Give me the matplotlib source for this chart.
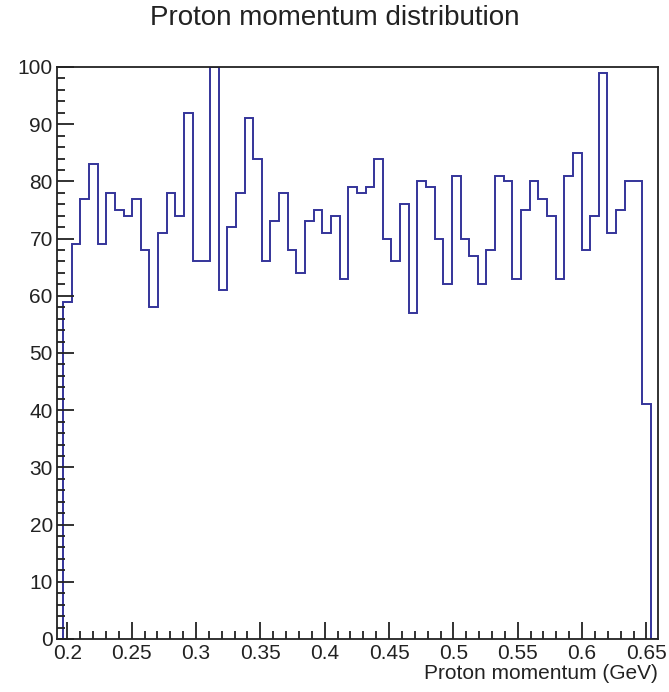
import numpy as np
import matplotlib
matplotlib.use("Agg")
import matplotlib.pyplot as plt
from matplotlib.ticker import MultipleLocator

plt.rcParams['font.family'] = ['Liberation Sans', 'DejaVu Sans']

# histogram: 70 bins between 0.19 and 0.66 GeV
hist_min = 0.19
hist_max = 0.66
counts = [0,
          59, 69, 77, 83, 69, 78, 75, 74, 77, 68,
          58, 71, 78, 74, 92, 66, 66, 100, 61, 72,
          78, 91, 84, 66, 73, 78, 68, 64, 73, 75,
          71, 74, 63, 79, 78, 79, 84, 70, 66, 76,
          57, 80, 79, 70, 62, 81, 70, 67, 62, 68,
          81, 80, 63, 75, 80, 77, 74, 63, 81, 85,
          68, 74, 99, 71, 75, 80, 80, 41,
          0]
x_ticks = [0.2, 0.25, 0.3, 0.35, 0.4, 0.45, 0.5, 0.55, 0.6, 0.65]
x_tick_labels = ["0.2", "0.25", "0.3", "0.35", "0.4", "0.45", "0.5", "0.55", "0.6", "0.65"]
y_ticks = [0, 10, 20, 30, 40, 50, 60, 70, 80, 90, 100]

edges = np.linspace(hist_min, hist_max, len(counts) + 1)

fig = plt.figure(figsize=(6.69, 6.92), dpi=100)
ax = fig.add_axes([0.0852, 0.0766, 0.8984, 0.8266])

ax.stairs(counts, edges, baseline=0, color="#34349a", linewidth=1.4)

# visible axis range is a bit narrower than the histogram range
ax.set_xlim(0.192, 0.659)
ax.set_ylim(0, 100)
ax.set_xticks(x_ticks)
ax.set_xticklabels(x_tick_labels)
ax.set_yticks(y_ticks)
ax.xaxis.set_minor_locator(MultipleLocator(0.01))
ax.yaxis.set_minor_locator(MultipleLocator(2))

ax.tick_params(which="both", direction="in", top=False, right=False,
               labelsize=15, colors="#222222", width=1.3)
ax.tick_params(which="major", length=12)
ax.tick_params(which="minor", length=6)
ax.tick_params(axis="x", pad=3.5)
ax.tick_params(axis="y", pad=3)

for s in ax.spines.values():
    s.set_linewidth(1.3)
    s.set_color("#222222")

ax.set_xlabel("Proton momentum (GeV)", loc="right", fontsize=15,
              color="#222222", labelpad=1)

fig.text(0.5, 1 - 18 / 692, "Proton momentum distribution",
         ha="center", va="center", fontsize=20, color="#222222")

fig.savefig("out.png", dpi=100)
